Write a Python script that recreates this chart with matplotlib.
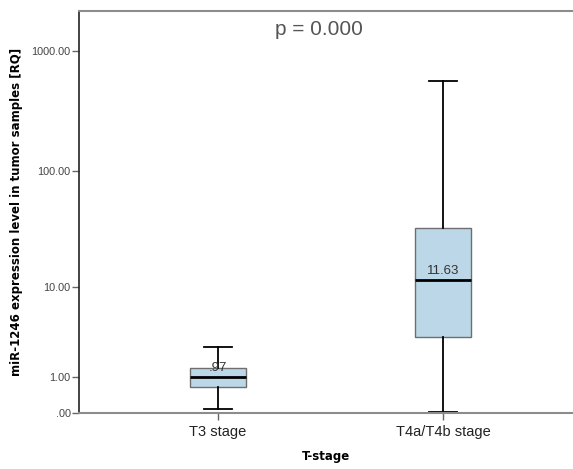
import matplotlib
matplotlib.use("Agg")
import matplotlib.pyplot as plt
import numpy as np

plt.rcParams['font.family'] = ['Liberation Sans', 'DejaVu Sans']

# 数据
groups = ['T3 stage', 'T4a/T4b stage']
whislo = [0.08, 0.02]
q1 = [0.64, 3.26]
med = [0.97, 11.63]
q3 = [1.36, 33.1]
whishi = [2.52, 562]
med_labels = ['.97', '11.63']
yticks = [0, 1, 10, 100, 1000]
ytick_labels = ['.00', '1.00', '10.00', '100.00', '1000.00']


def fwd(v):
    v = np.asarray(v, dtype=float)
    return np.sign(v) * np.log10(np.abs(v) + 1)


def inv(v):
    v = np.asarray(v, dtype=float)
    return np.sign(v) * (10 ** np.abs(v) - 1)


fig = plt.figure(figsize=(5.73, 4.69), dpi=100)
ax = fig.add_axes([79 / 573, 56 / 469, 1 - 79 / 573, (413 - 11) / 469])

stats = []
for i in range(len(groups)):
    stats.append(dict(whislo=whislo[i], q1=q1[i], med=med[i], q3=q3[i],
                      whishi=whishi[i], fliers=[], label=groups[i]))

ax.bxp(stats, positions=[1, 2], widths=0.253, patch_artist=True,
       boxprops=dict(facecolor='#bcd8e8', edgecolor='#6e6e6e', linewidth=1.0),
       medianprops=dict(color='black', linewidth=2.0),
       whiskerprops=dict(color='black', linewidth=1.3),
       capprops=dict(color='black', linewidth=1.3),
       capwidths=0.125)

ax.set_yscale('function', functions=(fwd, inv))
ax.set_ylim(0, 2140)
ax.set_xlim(1 - 139 / 225, 2 + 130 / 225)

ax.set_yticks(yticks)
ax.set_yticklabels(ytick_labels)
ax.yaxis.set_minor_locator(matplotlib.ticker.NullLocator())
ax.tick_params(axis='y', labelsize=7.8, labelcolor='#444444', color='#666666',
               length=5, width=1, pad=1)
ax.tick_params(axis='x', labelsize=10.5, labelcolor='#222222', color='#666666',
               length=5, width=1)

for s in ['top', 'bottom']:
    ax.spines[s].set_color('#8c8c8c')
    ax.spines[s].set_linewidth(1.5)
ax.spines['left'].set_color('#222222')
ax.spines['left'].set_linewidth(1.2)
ax.spines['right'].set_visible(False)

# 中位数标签
for i in range(len(groups)):
    ax.annotate(med_labels[i], (i + 1, med[i]), xytext=(0, 2.5),
                textcoords='offset points', ha='center', va='bottom',
                fontsize=9.5, color='#333333')

ax.text(0.485, 0.955, 'p = 0.000', transform=ax.transAxes, ha='center', va='center',
        fontsize=15, color='#555555')

ax.set_xlabel('T-stage', fontsize=8.5, fontweight='bold', labelpad=8,
              family='DejaVu Sans')
ax.set_ylabel('miR-1246 expression level in tumor samples [RQ]', fontsize=8.5,
              fontweight='bold', labelpad=6, family='DejaVu Sans')

fig.savefig('out.png', dpi=100)
plt.close(fig)
